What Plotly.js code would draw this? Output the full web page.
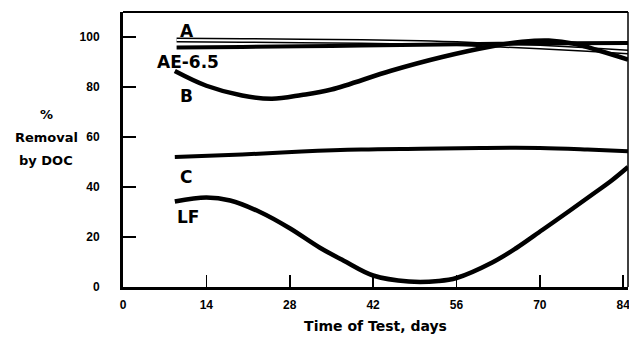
<!DOCTYPE html>
<html>
<head>
<meta charset="utf-8">
<script src="https://cdn.plot.ly/plotly-3.0.1.min.js"></script>
<style>html,body{margin:0;padding:0;background:#fff;}#chart{width:629px;height:339px;}</style>
</head>
<body>
<div id="chart"></div>
<script>
// Days of test and % removal by DOC
const daysA  = [9, 20, 35, 50, 60, 70, 78, 84.8];
const valsA  = [98.8, 98.6, 98.3, 97.8, 97.0, 96.0, 95.0, 94.0];

const daysAE = [9, 20, 35, 50, 63, 75, 84.8];
const valsAE = [95.8, 96.0, 96.4, 96.9, 97.3, 97.5, 97.6];

const daysB  = [8.7, 14, 20, 25, 30, 35, 45, 53.6, 62, 67, 71.5, 76, 80, 84.8];
const valsB  = [86.4, 80.5, 76.6, 75.3, 76.8, 79, 86.5, 92, 96.3, 98.1, 98.6, 97.2, 94.5, 91];

const daysC  = [8.7, 20, 30, 40, 50, 60, 70, 78, 84.8];
const valsC  = [52, 53, 54.2, 55, 55.3, 55.6, 55.6, 55, 54.3];

const daysLF = [8.7, 14, 18, 23, 28, 33, 37, 42, 48, 53, 56, 62, 66, 70.4, 75, 78.8, 82, 84.8];
const valsLF = [34.2, 35.8, 34.6, 30, 23.5, 15.8, 10.6, 4.6, 2.2, 2.4, 3.6, 9.8, 15.5, 22.8, 30.5, 37, 42.5, 48];

const xTicks = [0, 14, 28, 42, 56, 70, 84];
const yTicks = [0, 20, 40, 60, 80, 100];

const labels = [
  {text: 'A', x: 9.3, y: 102.5},
  {text: 'AE-6.5', x: 5.3, y: 90.2},
  {text: 'B', x: 9.3, y: 76.5},
  {text: 'C', x: 9.2, y: 44},
  {text: 'LF', x: 8.7, y: 28.2}
];

const yTitleLines = [
  {text: '%', y: 115},
  {text: 'Removal', y: 137},
  {text: 'by DOC', y: 160}
];

const FONT = 'Liberation Sans, Arial, sans-serif';
const WIDE = 'DejaVu Sans, Verdana, sans-serif';

function line(x, y, w, color) {
  return {x: x, y: y, type: 'scatter', mode: 'lines',
          line: {color: color, width: w, shape: 'spline', smoothing: 1},
          hoverinfo: 'skip', showlegend: false};
}

const traces = [
  line(daysA, valsA, 5, '#000'),
  line(daysA, valsA, 2, '#fff'),
  line(daysAE, valsAE, 4, '#000'),
  line(daysB, valsB, 4.5, '#000'),
  line(daysC, valsC, 4, '#000'),
  line(daysLF, valsLF, 4.5, '#000')
];

const annotations = labels.map(l => ({
  text: '<b>' + l.text + '</b>', x: l.x, y: l.y, xref: 'x', yref: 'y',
  showarrow: false, xanchor: 'left', yanchor: 'middle',
  font: {family: WIDE, size: 17, color: '#000'}
}));

// y-axis title, one annotation per line (pixel rows converted to paper fraction)
const plotTop = 12, plotH = 339 - 12 - 52;
yTitleLines.forEach(l => annotations.push({
  text: '<b>' + l.text + '</b>', xref: 'paper', yref: 'paper',
  x: -0.152, y: 1 - (l.y - plotTop) / plotH, xanchor: 'center', yanchor: 'middle',
  showarrow: false, font: {family: WIDE, size: 13, color: '#000'}
}));

const layout = {
  width: 629, height: 339,
  margin: {l: 123, r: 1, t: 12, b: 52},
  paper_bgcolor: '#fff', plot_bgcolor: '#fff',
  font: {family: FONT, color: '#000'},
  xaxis: {
    range: [0, 84.8], tickvals: xTicks, ticktext: xTicks.map(String),
    ticks: 'inside', ticklen: 12, tickwidth: 1.5, tickcolor: '#000',
    showline: true, linewidth: 3, linecolor: '#000',
    showgrid: false, zeroline: false, ticklabeloverflow: 'allow',
    tickfont: {family: FONT, size: 12, color: '#000', weight: 'bold'},
    ticklabelstandoff: 5,
    title: {text: '<b>Time of Test, days</b>', font: {family: WIDE, size: 14, color: '#000'}, standoff: 10}
  },
  yaxis: {
    range: [0, 110], tickvals: yTicks, ticktext: yTicks.map(String),
    ticks: 'inside', ticklen: 13, tickwidth: 1.5, tickcolor: '#000',
    showline: true, linewidth: 3, linecolor: '#000',
    showgrid: false, zeroline: false,
    tickfont: {family: FONT, size: 12, color: '#000', weight: 'bold'},
    ticklabelstandoff: 18
  },
  shapes: [
    {type: 'line', xref: 'paper', yref: 'paper', x0: 0, x1: 1, y0: 1, y1: 1, line: {color: '#000', width: 2}},
    {type: 'line', xref: 'paper', yref: 'paper', x0: 1, x1: 1, y0: 0, y1: 1, line: {color: '#000', width: 1.5}}
  ],
  annotations: annotations
};

Plotly.newPlot('chart', traces, layout, {displayModeBar: false, staticPlot: true});
</script>
</body>
</html>
